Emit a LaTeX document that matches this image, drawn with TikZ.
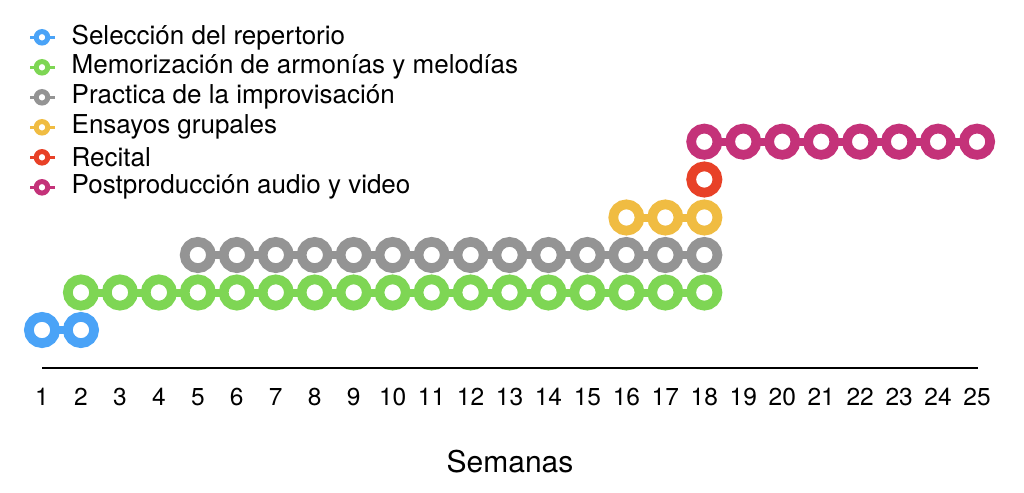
\documentclass[tikz,border=0pt]{standalone}
\usepackage{fontspec}
\setmainfont{TeX Gyre Heros}

\definecolor{selblue}{RGB}{74,163,247}
\definecolor{memgreen}{RGB}{126,214,84}
\definecolor{pracgray}{RGB}{148,148,148}
\definecolor{ensyellow}{RGB}{240,188,66}
\definecolor{recred}{RGB}{232,65,39}
\definecolor{postpink}{RGB}{196,50,121}

\tikzset{
  ring/.style={circle,draw=#1,line width=9.7pt,fill=white,minimum size=26.3pt,inner sep=0pt,outer sep=0pt},
  link/.style={draw=#1,line width=8pt},
  keyring/.style={circle,draw=#1,line width=5pt,fill=white,minimum size=11.5pt,inner sep=0pt,outer sep=0pt},
  keylink/.style={draw=#1,line width=3pt},
  keytext/.style={anchor=west,inner sep=0pt,font=\fontsize{26}{30}\selectfont},
  ticklabel/.style={font=\fontsize{24.5}{28}\selectfont}
}

\begin{document}
\begin{tikzpicture}[x=1pt,y=-1pt]
\useasboundingbox (0,0) rectangle (1024,492);

% legend
\foreach \c/\t [count=\i from 0] in {selblue/Selección del repertorio,
    memgreen/Memorización de armonías y melodías,
    pracgray/Practica de la improvisación,
    ensyellow/Ensayos grupales,
    recred/Recital,
    postpink/Postproducción audio y video}{
  \node [keyring=\c] (k\i) at (42,{37.3+30*\i}) {};
  \coordinate (kl\i) at (30,{37.3+30*\i});
  \coordinate (kr\i) at (55,{37.3+30*\i});
  \draw [keylink=\c] (kl\i) -- (k\i);
  \draw [keylink=\c] (k\i) -- (kr\i);
  \node [keytext] (t\i) at (71.5,{37.3+30*\i}) {\t};
}

% rows of weeks
\foreach \w in {1,2} \node [ring=selblue] (b\w) at ({3.04+38.96*\w},330) {};
\draw [link=selblue] (b1) -- (b2);

\foreach \w in {2,...,18} \node [ring=memgreen] (g\w) at ({3.04+38.96*\w},292.5) {};
\foreach \w [evaluate=\w as \v using int(\w+1)] in {2,...,17} \draw [link=memgreen] (g\w) -- (g\v);

\foreach \w in {5,...,18} \node [ring=pracgray] (p\w) at ({3.04+38.96*\w},255) {};
\foreach \w [evaluate=\w as \v using int(\w+1)] in {5,...,17} \draw [link=pracgray] (p\w) -- (p\v);

\foreach \w in {16,17,18} \node [ring=ensyellow] (e\w) at ({3.04+38.96*\w},217.5) {};
\draw [link=ensyellow] (e16) -- (e17) -- (e18);

\node [ring=recred] (r18) at ({3.04+38.96*18},179.5) {};

\foreach \w in {18,...,25} \node [ring=postpink] (m\w) at ({3.04+38.96*\w},141.7) {};
\foreach \w [evaluate=\w as \v using int(\w+1)] in {18,...,24} \draw [link=postpink] (m\w) -- (m\v);

% axis
\coordinate (a0) at (42,368.3);
\coordinate (a1) at (978,368.3);
\draw [line width=2.2pt] (a0) -- (a1);
\foreach \w in {1,...,25} \node [ticklabel] (n\w) at ({3.04+38.96*\w},396.7) {\w};
\node [font=\fontsize{30}{34}\selectfont] (sem) at (510,462) {Semanas};
\end{tikzpicture}
\end{document}
